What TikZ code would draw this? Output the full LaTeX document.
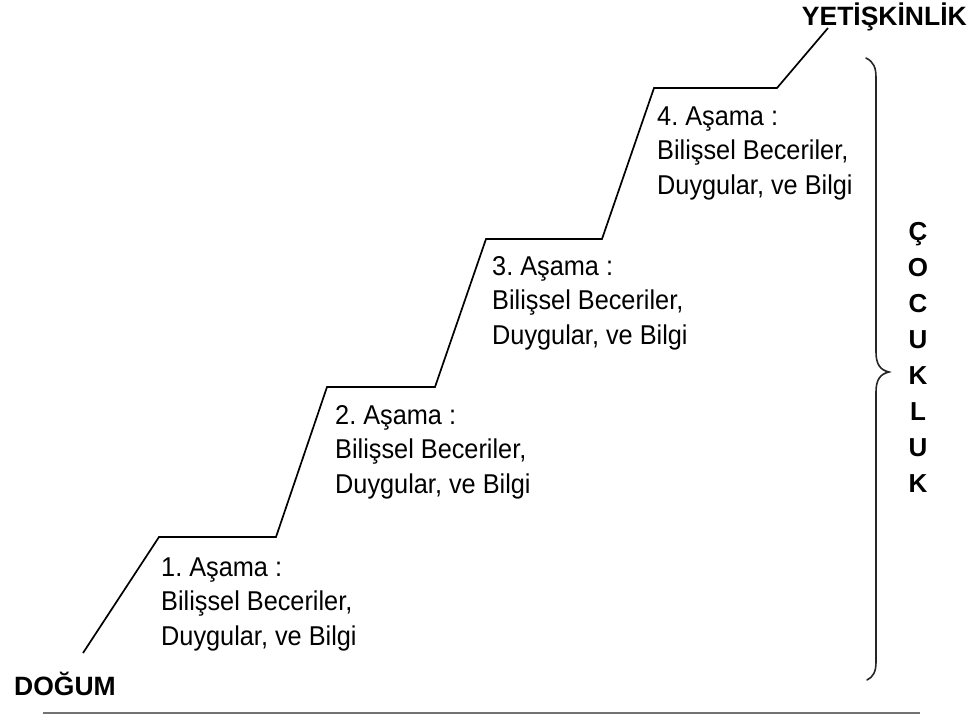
\documentclass[tikz,border=0pt]{standalone}
\usepackage{fontspec}
\setmainfont{Liberation Sans}
\newfontfamily\stagefont[FakeStretch=0.93]{Liberation Sans}
\frenchspacing
\begin{document}
\begin{tikzpicture}[x=1pt,y=-1pt,
  stair/.style={line width=1.7pt, line join=miter},
  stagetext/.style={anchor=base west, inner sep=0pt, align=left,
    font=\stagefont\fontsize{27.2}{34.5}\selectfont},
  endlabel/.style={inner sep=0pt, font=\fontsize{26.5}{29}\selectfont\bfseries},
  bracepath/.style={line width=1.6pt, draw=black!85, line cap=round},
  floorline/.style={line width=1.8pt, draw=black!55}]
  % canvas
  \useasboundingbox (0,0) rectangle (978,717);

  % corners of the staircase
  \coordinate (s0) at (83,653);
  \coordinate (s1) at (159,537);
  \coordinate (s2) at (276,537);
  \coordinate (s3) at (327,387);
  \coordinate (s4) at (435,387);
  \coordinate (s5) at (486,239);
  \coordinate (s6) at (602,239);
  \coordinate (s7) at (654,88);
  \coordinate (s8) at (777,88);
  \coordinate (s9) at (828,28);

  \draw[stair] (s0) -- (s1) -- (s2) -- (s3) -- (s4) -- (s5) -- (s6) -- (s7) -- (s8) -- (s9);

  % stage descriptions under each tread (placed by the baseline of the last line)
  \node[stagetext] (st1) at (161,645) {1. Aşama :\\Bilişsel Beceriler,\\Duygular, ve Bilgi};
  \node[stagetext] (st2) at (335,493) {2. Aşama :\\Bilişsel Beceriler,\\Duygular, ve Bilgi};
  \node[stagetext] (st3) at (492,344) {3. Aşama :\\Bilişsel Beceriler,\\Duygular, ve Bilgi};
  \node[stagetext] (st4) at (657,194) {4. Aşama :\\Bilişsel Beceriler,\\Duygular, ve Bilgi};

  % start and end labels
  \node[endlabel, anchor=base west] (birth) at (14,695) {DOĞUM};
  \node[endlabel, anchor=base east] (adult) at (967,26) {YETİŞKİNLİK};

  % curly brace spanning childhood
  \coordinate (btop) at (866,58);
  \coordinate (btip) at (889,372);
  \coordinate (bbot) at (867,680);
  \draw[bracepath] (btop) .. controls (874,62) and (876,68) .. (876,78)
    -- (876,352) .. controls (876,364) and (880,370) .. (btip)
    .. controls (880,374) and (876,380) .. (876,392)
    -- (876,662) .. controls (876,672) and (873,677) .. (bbot);

  % vertical word beside the brace (placed by the baseline of its last letter)
  \node[endlabel, anchor=base, align=center,
        font=\fontsize{26}{36}\selectfont\bfseries] (child) at (918,492)
    {Ç\\O\\C\\U\\K\\L\\U\\K};

  % ground line
  \coordinate (g0) at (43,713);
  \coordinate (g1) at (920,713);
  \draw[floorline] (g0) -- (g1);
\end{tikzpicture}
\end{document}
